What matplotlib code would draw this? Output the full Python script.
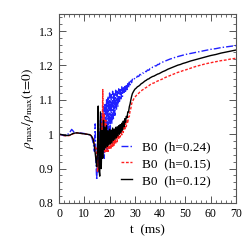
import matplotlib
matplotlib.use("Agg")
import matplotlib.pyplot as plt
from matplotlib.ticker import MultipleLocator

plt.rcParams['font.family'] = ['Liberation Serif', 'DejaVu Serif']
plt.rcParams['mathtext.fontset'] = 'stix'

# shared time grid (ms)
t_early = [0, 1, 2, 3, 4, 4.5, 5, 5.5, 6, 7, 8, 9, 10, 11, 12, 12.5, 13, 13.5]
t_noisy = [14, 14.3, 14.6, 14.9, 15.2, 15.5, 15.8, 16.1, 16.4, 16.7,
           17, 17.3, 17.6, 17.9, 18.2, 18.5, 18.8, 19.1, 19.4, 19.7,
           20, 20.3, 20.6, 20.9, 21.2, 21.5, 21.8, 22.1, 22.4, 22.7,
           23, 23.3, 23.6, 23.9, 24.2, 24.5, 24.8, 25.1, 25.4, 25.7,
           26, 26.3, 26.6, 26.9, 27.2, 27.5, 27.8, 28.1, 28.4, 28.7]
t_mid = [29, 29.5, 30, 30.5, 31, 31.5, 32, 32.5, 33, 33.5, 34, 34.5, 35, 35.5,
         36, 36.5, 37, 37.5, 38, 38.5, 39, 39.5, 40]
t_late = [41, 42, 43, 44, 45, 46, 47, 48, 49, 50, 52, 54, 56, 58, 60, 62, 64, 66, 68, 70]

# Blue: B0 (h=0.24)
b_early = [1.000, 0.998, 0.996, 0.997, 1.003, 1.008, 1.014, 1.010, 1.005, 1.004, 1.004, 1.003,
           1.002, 1.000, 0.998, 0.995, 0.990, 0.975]
b_noisy = [0.950, 1.030, 0.920, 0.867, 0.960, 0.890, 1.010, 0.920, 1.040, 0.940,
           1.060, 0.950, 1.080, 0.930, 1.090, 0.960, 1.100, 0.950, 1.110, 0.990,
           1.120, 1.010, 1.115, 1.030, 1.125, 1.045, 1.120, 1.055, 1.128, 1.070,
           1.125, 1.080, 1.132, 1.095, 1.130, 1.100, 1.138, 1.110, 1.135, 1.118,
           1.142, 1.125, 1.145, 1.130, 1.150, 1.136, 1.152, 1.142, 1.155, 1.150]
b_mid = [1.160, 1.157, 1.164, 1.163, 1.169, 1.168, 1.174, 1.173, 1.178, 1.178, 1.183, 1.182,
         1.187, 1.186, 1.191, 1.191, 1.195, 1.195, 1.199, 1.199, 1.203, 1.203, 1.207]
b_late = [1.210, 1.213, 1.216, 1.219, 1.221, 1.224, 1.226, 1.228, 1.230, 1.232,
          1.235, 1.238, 1.241, 1.244, 1.247, 1.249, 1.252, 1.254, 1.256, 1.258]

# Red: B0 (h=0.15)
r_early = [1.000, 0.998, 0.996, 0.995, 0.996, 0.997, 0.999, 1.001, 1.002, 1.004, 1.003, 1.002,
           1.001, 1.000, 0.999, 0.997, 0.993, 0.985]
r_noisy = [0.970, 0.955, 0.960, 0.930, 0.890, 0.925, 0.895, 0.980, 0.915, 1.030,
           0.945, 1.130, 0.960, 1.060, 0.945, 1.040, 0.950, 1.010, 0.950, 1.000,
           0.955, 0.990, 0.958, 0.992, 0.962, 0.995, 0.968, 0.998, 0.972, 1.002,
           0.978, 1.006, 0.985, 1.010, 0.992, 1.015, 0.998, 1.020, 1.005, 1.025,
           1.012, 1.032, 1.022, 1.040, 1.035, 1.050, 1.052, 1.068, 1.075, 1.088]
r_mid = [1.095, 1.102, 1.108, 1.112, 1.117, 1.119, 1.123, 1.126, 1.129, 1.131, 1.134, 1.136,
         1.139, 1.141, 1.144, 1.146, 1.148, 1.149, 1.151, 1.153, 1.155, 1.156, 1.158]
r_late = [1.161, 1.165, 1.168, 1.171, 1.174, 1.177, 1.180, 1.182, 1.185, 1.187,
          1.192, 1.197, 1.201, 1.205, 1.208, 1.211, 1.214, 1.216, 1.219, 1.221]

# Black: B0 (h=0.12)
k_early = [1.000, 0.999, 0.997, 0.996, 0.997, 0.998, 1.000, 1.002, 1.003, 1.004, 1.003, 1.002,
           1.001, 1.000, 0.999, 0.997, 0.993, 0.985]
k_noisy = [0.965, 0.945, 0.925, 0.905, 0.950, 1.082, 0.900, 0.878, 1.065, 0.900,
           1.010, 0.930, 1.040, 0.955, 1.020, 0.960, 1.025, 0.965, 1.010, 0.968,
           1.015, 0.972, 1.012, 0.975, 1.018, 0.982, 1.015, 0.985, 1.020, 0.990,
           1.022, 0.995, 1.025, 1.000, 1.028, 1.005, 1.032, 1.012, 1.038, 1.022,
           1.045, 1.035, 1.052, 1.048, 1.065, 1.065, 1.080, 1.088, 1.100, 1.110]
k_mid = [1.118, 1.125, 1.131, 1.134, 1.138, 1.140, 1.143, 1.147, 1.149, 1.152, 1.155, 1.157,
         1.160, 1.161, 1.164, 1.166, 1.168, 1.169, 1.171, 1.173, 1.175, 1.176, 1.178]
k_late = [1.182, 1.185, 1.189, 1.192, 1.195, 1.198, 1.201, 1.203, 1.206, 1.208,
          1.213, 1.217, 1.221, 1.225, 1.229, 1.232, 1.236, 1.239, 1.242, 1.245]

labels = ['B0  (h=0.24)', 'B0  (h=0.15)', 'B0  (h=0.12)']

t = t_early + t_noisy + t_mid + t_late
v_b = b_early + b_noisy + b_mid + b_late
v_r = r_early + r_noisy + r_mid + r_late
v_k = k_early + k_noisy + k_mid + k_late

fig = plt.figure(figsize=(2.49, 2.49), dpi=100)
ax = fig.add_axes([0.237, 0.185, 0.711, 0.759])

ax.plot(t, v_b, color='#2020ff', lw=1.0, linestyle=(0, (5, 1.5, 1, 1.5)), label=labels[0])
ax.plot(t, v_r, color='#ff2020', lw=1.0, linestyle=(0, (2, 1.2)), label=labels[1])
ax.plot(t, v_k, color='black', lw=1.0, linestyle='-', label=labels[2])

ax.set_xlim(0, 70)
ax.set_ylim(0.8, 1.35)
ax.xaxis.set_major_locator(MultipleLocator(10))
ax.xaxis.set_minor_locator(MultipleLocator(2))
ax.yaxis.set_minor_locator(MultipleLocator(0.02))
ax.set_yticks([0.8, 0.9, 1.0, 1.1, 1.2, 1.3])
ax.set_yticklabels(['0.8', '0.9', '1', '1.1', '1.2', '1.3'])
ax.tick_params(which='both', direction='in', top=True, right=True, color='#555555', labelsize=8.5, pad=4)
ax.tick_params(which='major', length=5, width=0.7)
ax.tick_params(which='minor', length=2.5, width=0.6)
for s in ax.spines.values():
    s.set_color('#555555')
    s.set_linewidth(0.8)

ax.set_xlabel('t  (ms)', fontsize=9.5, labelpad=3)
ax.set_ylabel(r'$\rho_{\rm max}/\rho_{\rm max}(\rm t\!=\!0)$', fontsize=9.5, labelpad=2)

leg = ax.legend(loc='lower left', frameon=False, fontsize=9.5, handlelength=0.8,
                handletextpad=0.8, labelspacing=0.35, borderpad=0, borderaxespad=0,
                bbox_to_anchor=(0.35, 0.085))

fig.savefig('out.png', dpi=100)
